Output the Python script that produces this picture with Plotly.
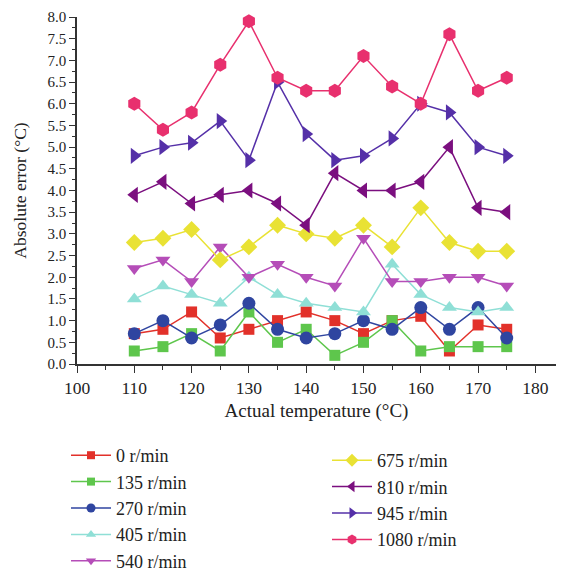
import plotly.graph_objects as go

temps = [110, 115, 120, 125, 130, 135, 140, 145, 150, 155, 160, 165, 170, 175]

err_0    = [0.7, 0.8, 1.2, 0.6, 0.8, 1.0, 1.2, 1.0, 0.7, 1.0, 1.1, 0.3, 0.9, 0.8]
err_135  = [0.3, 0.4, 0.7, 0.3, 1.2, 0.5, 0.8, 0.2, 0.5, 1.0, 0.3, 0.4, 0.4, 0.4]
err_270  = [0.7, 1.0, 0.6, 0.9, 1.4, 0.8, 0.6, 0.7, 1.0, 0.8, 1.3, 0.8, 1.3, 0.6]
err_405  = [1.5, 1.8, 1.6, 1.4, 2.0, 1.6, 1.4, 1.3, 1.2, 2.3, 1.6, 1.3, 1.2, 1.3]
err_540  = [2.2, 2.4, 1.9, 2.7, 2.0, 2.3, 2.0, 1.8, 2.9, 1.9, 1.9, 2.0, 2.0, 1.8]
err_675  = [2.8, 2.9, 3.1, 2.4, 2.7, 3.2, 3.0, 2.9, 3.2, 2.7, 3.6, 2.8, 2.6, 2.6]
err_810  = [3.9, 4.2, 3.7, 3.9, 4.0, 3.7, 3.2, 4.4, 4.0, 4.0, 4.2, 5.0, 3.6, 3.5]
err_945  = [4.8, 5.0, 5.1, 5.6, 4.7, 6.5, 5.3, 4.7, 4.8, 5.2, 6.0, 5.8, 5.0, 4.8]
err_1080 = [6.0, 5.4, 5.8, 6.9, 7.9, 6.6, 6.3, 6.3, 7.1, 6.4, 6.0, 7.6, 6.3, 6.6]

names = ["0 r/min", "135 r/min", "270 r/min", "405 r/min", "540 r/min",
         "675 r/min", "810 r/min", "945 r/min", "1080 r/min"]
series = [err_0, err_135, err_270, err_405, err_540, err_675, err_810, err_945, err_1080]
colors = ["#e2312a", "#5ec64c", "#2f45a0", "#8fdfd6", "#b54db8",
          "#e9e234", "#7b0f7f", "#5530a8", "#e8306e"]
symbols = ["square", "square", "circle", "triangle-up", "triangle-down",
           "diamond", "triangle-left", "triangle-right", "hexagon"]
sizes = [11, 11, 13, 13, 13, 13, 14, 14, 14]
leg_sizes = [8, 8, 9, 9, 9, 10, 10, 10, 10]

FONT = "Liberation Serif"
fig = go.Figure()

for i, (nm, ys) in enumerate(zip(names, series)):
    fig.add_trace(go.Scatter(
        x=temps, y=ys, mode="lines+markers", name=nm, showlegend=False,
        line=dict(color=colors[i], width=1.5),
        marker=dict(symbol=symbols[i], size=sizes[i], color=colors[i],
                    line=dict(width=0)),
        cliponaxis=False,
    ))

for i, nm in enumerate(names):
    fig.add_trace(go.Scatter(
        x=[None], y=[None], mode="lines+markers", name=nm,
        legend="legend" if i < 5 else "legend2",
        line=dict(color=colors[i], width=1.5),
        marker=dict(symbol=symbols[i], size=leg_sizes[i], color=colors[i]),
    ))

W, H = 564, 573
x0, x1 = 77, 556
y0, y1 = 17, 364

fig.update_layout(
    width=W, height=H,
    margin=dict(l=0, r=0, t=0, b=0, autoexpand=False),
    paper_bgcolor="white", plot_bgcolor="white",
    font=dict(family=FONT, color="#222222"),
    xaxis=dict(
        domain=[x0 / W, x1 / W], range=[100, 183.6], automargin=False,
        tickmode="linear", tick0=100, dtick=10,
        ticks="outside", ticklen=7, tickwidth=1.3, tickcolor="#333",
        showline=True, linecolor="#333", linewidth=1.5,
        showgrid=False, zeroline=False,
        tickfont=dict(size=17.5, family=FONT, color="#222"),
        minor=dict(dtick=5, tick0=100, ticks="outside", ticklen=4,
                   tickwidth=1.2, tickcolor="#333", showgrid=False),
        title=dict(text="Actual temperature (°C)",
                   font=dict(size=19, family=FONT, color="#222"), standoff=7),
    ),
    yaxis=dict(
        domain=[1 - y1 / H, 1 - y0 / H], range=[0, 8], automargin=False,
        tickmode="linear", tick0=0, dtick=0.5, tickformat=".1f",
        ticks="outside", ticklen=6, tickwidth=1.3, tickcolor="#333",
        showline=True, linecolor="#333", linewidth=1.5,
        showgrid=False, zeroline=False,
        tickfont=dict(size=15, family=FONT, color="#222"),
        minor=dict(dtick=0.25, tick0=0, ticks="outside", ticklen=3,
                   tickwidth=1.2, tickcolor="#333", showgrid=False),
        title=dict(text="Absolute error (°C)",
                   font=dict(size=17.5, family=FONT, color="#222"), standoff=16),
    ),
    legend=dict(
        x=66 / W, y=1 - 437 / H, xanchor="left", yanchor="top",
        font=dict(size=18, family=FONT, color="#222"),
        itemwidth=40, bgcolor="rgba(0,0,0,0)", borderwidth=0,
        tracegroupgap=0,
    ),
    legend2=dict(
        x=327 / W, y=1 - 442 / H, xanchor="left", yanchor="top",
        font=dict(size=18, family=FONT, color="#222"),
        itemwidth=40, bgcolor="rgba(0,0,0,0)", borderwidth=0,
        tracegroupgap=0,
    ),
)

fig.write_html("out.html")
